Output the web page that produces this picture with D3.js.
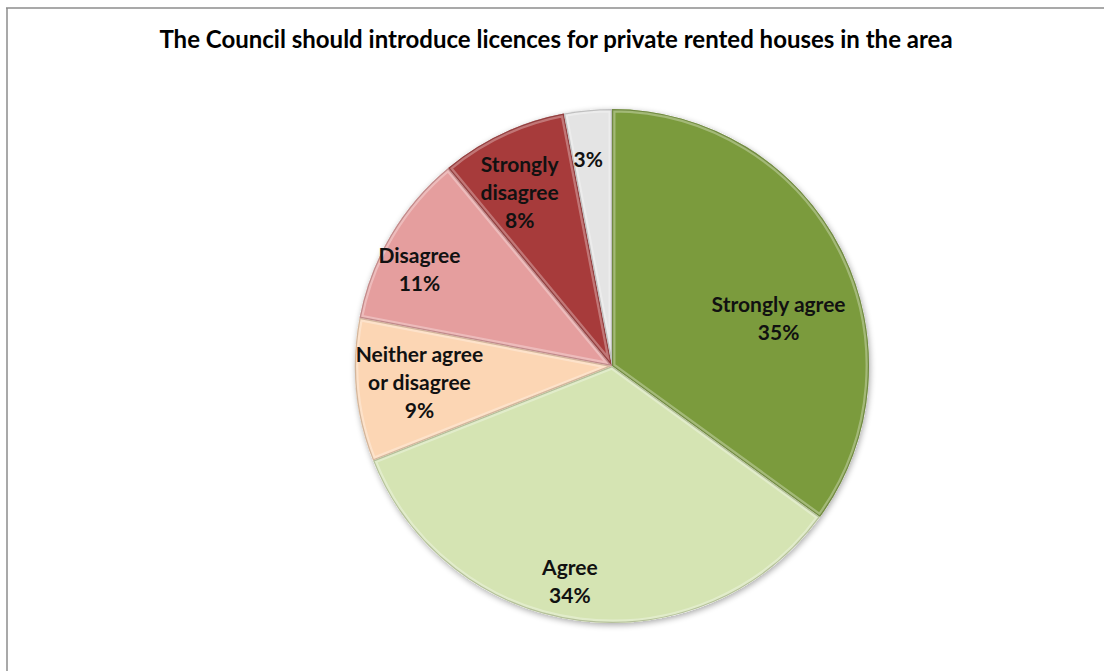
<!DOCTYPE html>
<html>
<head>
<meta charset="utf-8">
<script src="https://cdn.jsdelivr.net/npm/d3@7/dist/d3.min.js"></script>
<style>
  html, body { margin: 0; padding: 0; background: #ffffff; }
  svg { display: block; }
</style>
</head>
<body>
<script>
// Survey responses, in the order the slices run clockwise from 12 o'clock
const categories = ["Strongly agree", "Agree", "Neither agree or disagree", "Disagree", "Strongly disagree", "Don't know"];
const percentages = [35, 34, 9, 11, 8, 3];
// Label text lines shown inside each slice (last line is the percentage)
const labelLines = [
  ["Strongly agree"],
  ["Agree"],
  ["Neither agree", "or disagree"],
  ["Disagree"],
  ["Strongly", "disagree"],
  []
];
const sliceColors = ["#7b9b3d", "#d5e4b3", "#fcd6b4", "#e59e9e", "#a73b3b", "#e4e4e4"];
const titleText = "The Council should introduce licences for private rented houses in the area";

// Layout
const W = 1104, H = 671;
const cx = 612, cy = 366, R = 257;
const labelRadius = 0.78 * R;
// Small per-label nudges so the text blocks sit where best-fit placement puts them
const labelNudge = [[-12, 44], [-17, 17], [7, -2], [-20, 6], [-7, 8], [-5, -7]];

const svg = d3.select("body").append("svg").attr("width", W).attr("height", H);
const defs = svg.append("defs");

// Chart frame
svg.append("line").attr("x1", 6).attr("x2", W).attr("y1", 8).attr("y2", 8)
  .attr("stroke", "#8c8c8c").attr("stroke-width", 1.5);
svg.append("line").attr("x1", 7).attr("x2", 7).attr("y1", 8).attr("y2", H)
  .attr("stroke", "#8c8c8c").attr("stroke-width", 1.5);

// Title
svg.append("text")
  .attr("x", 556).attr("y", 48)
  .attr("text-anchor", "middle")
  .attr("font-family", "Lato, 'Open Sans', sans-serif")
  .attr("font-weight", 700)
  .attr("font-size", 24)
  .attr("fill", "#000")
  .text(titleText);

// Soft shadow under the pie
const shadow = defs.append("filter").attr("id", "pieShadow")
  .attr("x", "-20%").attr("y", "-20%").attr("width", "140%").attr("height", "140%");
shadow.append("feGaussianBlur").attr("in", "SourceAlpha").attr("stdDeviation", 3).attr("result", "b");
shadow.append("feOffset").attr("in", "b").attr("dx", 1).attr("dy", 2).attr("result", "o");
shadow.append("feComponentTransfer").attr("in", "o").attr("result", "s")
  .append("feFuncA").attr("type", "linear").attr("slope", 0.35);
const merge = shadow.append("feMerge");
merge.append("feMergeNode").attr("in", "s");
merge.append("feMergeNode").attr("in", "SourceGraphic");

const pie = d3.pie().sort(null).value(d => d)(percentages);
const arc = d3.arc().innerRadius(0).outerRadius(R);
const labelArc = d3.arc().innerRadius(labelRadius).outerRadius(labelRadius);

const g = svg.append("g").attr("transform", `translate(${cx},${cy})`);

// Base disc carries the shadow
g.append("circle").attr("r", R).attr("fill", "#ffffff").attr("filter", "url(#pieShadow)");

pie.forEach((p, i) => {
  const id = "clip" + i;
  defs.append("clipPath").attr("id", id)
    .append("path").attr("d", arc(p)).attr("transform", `translate(${cx},${cy})`);

  const base = d3.color(sliceColors[i]);
  g.append("path").attr("d", arc(p)).attr("fill", base.formatHex());
  // bevel: light inner edge, then darker rim
  const bevel = svg.append("g").attr("clip-path", `url(#${id})`);
  bevel.append("path").attr("d", arc(p)).attr("transform", `translate(${cx},${cy})`)
    .attr("fill", "none").attr("stroke", "#ffffff").attr("stroke-opacity", 0.3)
    .attr("stroke-width", 7).attr("stroke-linejoin", "round");
  bevel.append("path").attr("d", arc(p)).attr("transform", `translate(${cx},${cy})`)
    .attr("fill", "none").attr("stroke", base.darker(0.7).formatHex()).attr("stroke-opacity", 0.75)
    .attr("stroke-width", 2.5);
});

// Labels
const lineH = 28;
const labelsG = svg.append("g").attr("transform", `translate(${cx},${cy})`);
pie.forEach((p, i) => {
  const [lx, ly] = labelArc.centroid(p);
  const lines = labelLines[i].concat([percentages[i] + "%"]);
  const x = lx + labelNudge[i][0];
  const y0 = ly + labelNudge[i][1] - (lines.length - 1) * lineH / 2;
  const t = labelsG.append("text")
    .attr("text-anchor", "middle")
    .attr("font-family", "Lato, 'Open Sans', sans-serif")
    .attr("font-weight", 700)
    .attr("font-size", 21)
    .attr("fill", "#111");
  lines.forEach((ln, k) => {
    t.append("tspan").attr("x", x).attr("y", y0 + k * lineH).attr("dy", "0.35em").text(ln);
  });
});
</script>
</body>
</html>
